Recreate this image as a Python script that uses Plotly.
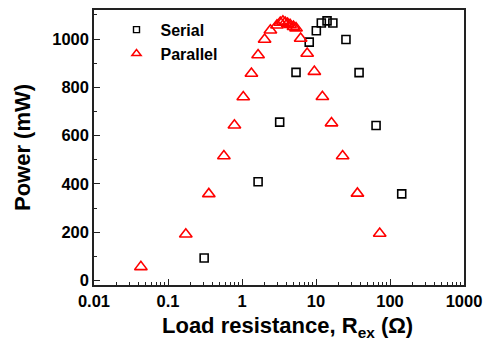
import plotly.graph_objects as go

serial_r = [0.308, 1.65, 3.23, 5.37, 8.1, 10.1, 11.8, 14.1, 16.9, 25.4, 38.2, 64.8, 144]
serial_p = [94, 409, 656, 862, 987, 1034, 1066, 1075, 1066, 998, 861, 642, 359]

parallel_r = [0.043, 0.174, 0.356, 0.569, 0.79, 1.04, 1.34, 1.65, 2.02, 2.42, 2.97,
              3.29, 3.57, 3.84, 4.13, 4.47, 4.96, 5.37, 6.2, 7.6, 9.5, 12.2, 16.2,
              22.9, 36.3, 72.6]
parallel_p = [57, 192, 359, 516, 643, 760, 857, 934, 998, 1036, 1057,
              1068, 1073, 1068, 1064, 1059, 1051, 1045, 1002, 940, 865, 761, 652,
              516, 361, 195]

x_tickvals = [0.01, 0.1, 1, 10, 100, 1000]
x_ticktext = ["0.01", "0.1", "1", "10", "100", "1000"]
y_tickvals = [0, 200, 400, 600, 800, 1000]

minor_x = [m * 10 ** e for e in range(-2, 3) for m in range(2, 10)]

fig = go.Figure()
fig.add_trace(go.Scatter(
    x=serial_r, y=serial_p, mode="markers", name="Serial", showlegend=False,
    marker=dict(symbol="square-open", size=8, color="black", line=dict(width=1.6, color="black")),
))
fig.add_trace(go.Scatter(
    x=parallel_r, y=parallel_p, mode="markers", name="Parallel", showlegend=False,
    marker=dict(symbol="triangle-up-open", size=11, color="red", line=dict(width=1.6, color="red")),
))
# legend entries with the smaller legend symbols of the reference
fig.add_trace(go.Scatter(
    x=[None], y=[None], mode="markers", name="Serial",
    marker=dict(symbol="square-open", size=6, color="black", line=dict(width=1.4, color="black")),
))
fig.add_trace(go.Scatter(
    x=[None], y=[None], mode="markers", name="Parallel",
    marker=dict(symbol="triangle-up-open", size=8, color="red", line=dict(width=1.5, color="red")),
))

font_family = "Liberation Sans, Arial, sans-serif"
fig.update_layout(
    width=490, height=345,
    margin=dict(l=94, r=20, t=8, b=60),
    paper_bgcolor="white", plot_bgcolor="white",
    font=dict(family=font_family, color="black"),
    showlegend=True,
    legend=dict(x=0.05, y=0.99, xanchor="left", yanchor="top",
                font=dict(size=16, family=font_family, color="black", weight="bold"),
                bgcolor="rgba(0,0,0,0)", itemwidth=38, tracegroupgap=0),
    annotations=[dict(
        text="Load resistance, R<sub>ex</sub> (Ω)",
        xref="paper", yref="paper", x=0.524, y=0, yshift=-26,
        xanchor="center", yanchor="top", showarrow=False,
        font=dict(size=22, family=font_family, color="black", weight="bold"),
    )],
)
fig.update_xaxes(
    type="log", range=[-2, 3],
    tickvals=x_tickvals, ticktext=x_ticktext,
    ticks="inside", ticklen=6, tickwidth=1.2, tickcolor="#222",
    minor=dict(tickvals=minor_x, ticks="inside", ticklen=3, tickwidth=1, tickcolor="#222", showgrid=False),
    showline=True, linecolor="#222", linewidth=1.5, mirror=True,
    showgrid=False, zeroline=False,
    tickfont=dict(size=16.5, family=font_family, color="black", weight="bold"),
)
fig.update_yaxes(
    range=[-18, 1120],
    tickvals=y_tickvals,
    ticks="inside", ticklen=6, tickwidth=1.2, tickcolor="#222",
    minor=dict(dtick=100, ticks="inside", ticklen=3, tickwidth=1, tickcolor="#222", showgrid=False),
    showline=True, linecolor="#222", linewidth=1.5, mirror=True,
    showgrid=False, zeroline=False,
    tickfont=dict(size=16.5, family=font_family, color="black", weight="bold"),
    title=dict(text="Power (mW)",
               font=dict(size=22, family=font_family, color="black", weight="bold"),
               standoff=16),
)

fig.write_html("out.html")
